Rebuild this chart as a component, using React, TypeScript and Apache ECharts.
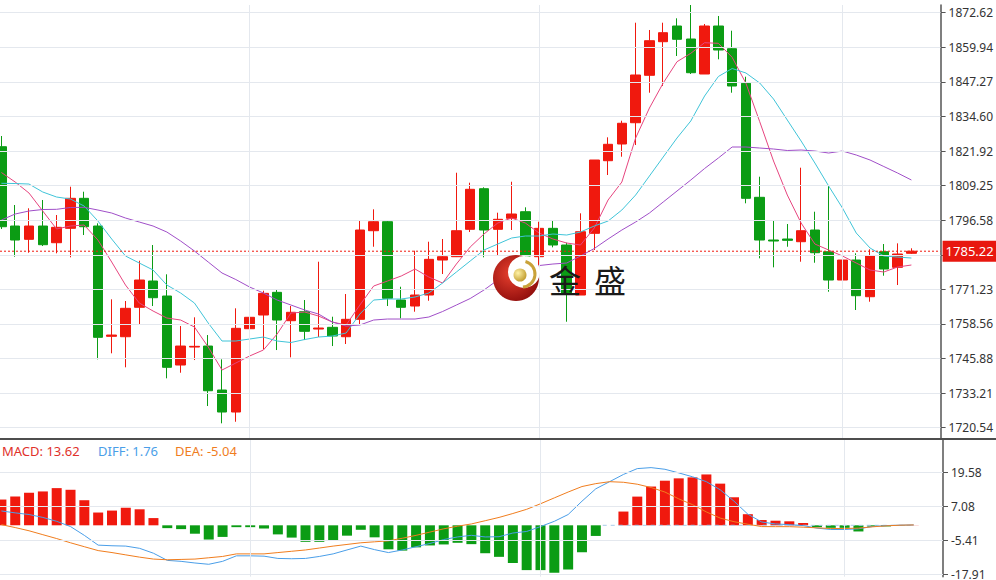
import React, { useEffect, useRef } from "react";
import * as echarts from "echarts";

// [open, close, low, high]
const candles: number[][] = [
  [1823.51, 1794.19, 1793.35, 1827.43], [1794.45, 1789.32, 1783.2, 1802.15], [1789.57, 1794.45, 1784.67, 1800.94],
  [1794.45, 1787.6, 1787.12, 1803.98], [1788.33, 1793.97, 1784.45, 1798.48], [1793.6, 1804.6, 1782.98, 1808.85],
  [1804.6, 1794.19, 1791.15, 1807.02], [1794.45, 1753.66, 1745.6, 1795.44], [1754.03, 1754.5, 1747.8, 1767.59],
  [1753.88, 1764.29, 1742.67, 1766.97], [1764.66, 1774.66, 1758.54, 1781.73], [1774.3, 1768.18, 1765.13, 1787.49],
  [1768.8, 1742.67, 1738.64, 1776.75], [1743.51, 1750.47, 1740.69, 1757.8], [1750.1, 1750.36, 1745.34, 1760.99],
  [1750.47, 1734.09, 1728.49, 1754.5], [1734.35, 1726.29, 1722.15, 1745.6], [1726.29, 1756.96, 1722.73, 1764.29],
  [1756.82, 1761.0, 1750.22, 1764.29], [1761.84, 1769.78, 1749.27, 1770.74], [1770.15, 1760.0, 1749.0, 1771.0],
  [1759.75, 1762.83, 1746.33, 1765.13], [1763.05, 1755.86, 1752.67, 1767.33], [1756.7, 1757.07, 1753.77, 1781.37],
  [1757.33, 1754.14, 1750.47, 1761.21], [1753.88, 1760.26, 1751.21, 1769.53], [1760.26, 1792.98, 1758.54, 1796.65],
  [1792.73, 1796.03, 1786.86, 1800.57], [1796.03, 1767.96, 1765.13, 1796.65], [1767.33, 1764.66, 1760.63, 1772.2],
  [1765.13, 1769.16, 1763.05, 1785.4], [1769.16, 1782.24, 1767.07, 1788.7], [1781.99, 1783.2, 1776.86, 1789.69],
  [1783.2, 1792.73, 1783.09, 1813.98], [1793.24, 1807.9, 1792.25, 1810.32], [1808.12, 1792.98, 1782.98, 1808.63],
  [1793.24, 1796.91, 1783.82, 1799.33], [1797.27, 1798.85, 1792.98, 1810.68], [1799.69, 1783.46, 1772.83, 1801.3],
  [1783.2, 1793.6, 1779.53, 1796.03], [1793.6, 1787.49, 1786.64, 1796.65], [1787.49, 1769.78, 1759.38, 1788.33],
  [1769.16, 1792.36, 1769.16, 1799.1], [1791.77, 1818.64, 1785.65, 1818.64], [1818.38, 1824.39, 1813.14, 1826.95],
  [1824.5, 1832.1, 1819.85, 1833.04], [1832.3, 1849.79, 1824.13, 1868.95], [1849.68, 1862.36, 1843.3, 1866.28],
  [1861.99, 1865.29, 1845.75, 1868.95], [1867.74, 1862.87, 1856.75, 1870.56], [1862.98, 1850.63, 1850.15, 1875.44],
  [1850.15, 1867.74, 1850.15, 1868.48], [1867.74, 1858.95, 1855.54, 1871.41], [1859.42, 1845.75, 1843.3, 1866.02],
  [1846.74, 1804.6, 1802.77, 1849.16], [1804.97, 1789.32, 1782.61, 1812.52], [1789.32, 1788.95, 1779.31, 1796.65],
  [1789.69, 1789.2, 1786.86, 1795.18], [1788.7, 1792.73, 1781.37, 1815.82], [1792.98, 1784.67, 1781.0, 1799.69],
  [1785.03, 1774.66, 1770.37, 1809.11], [1774.66, 1781.99, 1772.83, 1794.45], [1781.99, 1768.91, 1763.67, 1784.45],
  [1768.54, 1783.46, 1766.71, 1785.91], [1785.03, 1778.69, 1776.24, 1787.85], [1779.31, 1784.19, 1772.83, 1788.1],
  [1784.45, 1785.22, 1784.19, 1786.28],
];

const ma5 = [
  1814.06, 1810.57, 1806.54, 1799.95, 1793.35, 1794.45, 1794.82, 1789.32, 1781.26, 1772.83,
  1766.23, 1763.3, 1760.74, 1760.0, 1757.44, 1750.11, 1741.68, 1744.24, 1746.81, 1749.01,
  1754.87, 1762.57, 1762.93, 1761.47, 1759.27, 1758.17, 1765.5, 1772.46, 1774.29, 1776.13,
  1778.69, 1775.76, 1773.56, 1780.52, 1786.75, 1791.52, 1795.55, 1797.38, 1795.55, 1791.88,
  1789.69, 1788.22, 1787.49, 1793.72, 1803.98, 1810.57, 1826.7, 1837.69, 1846.85, 1854.66,
  1857.74, 1861.62, 1861.4, 1856.27, 1846.74, 1832.67, 1818.27, 1805.81, 1795.55, 1787.85,
  1785.65, 1783.46, 1780.89, 1778.33, 1777.59, 1779.43, 1780.16,
];

const ma10 = [
  1810.1, 1810.02, 1809.84, 1806.91, 1805.08, 1804.34, 1801.78, 1796.28, 1789.69, 1783.46,
  1780.89, 1778.33, 1772.83, 1769.9, 1766.23, 1758.9, 1752.31, 1752.31, 1753.04, 1753.77,
  1752.31, 1751.76, 1752.86, 1753.77, 1754.14, 1755.24, 1762.2, 1767.33, 1767.7, 1767.7,
  1768.43, 1769.9, 1773.56, 1777.59, 1781.62, 1785.65, 1787.85, 1790.05, 1790.79, 1790.79,
  1791.52, 1791.15, 1792.25, 1794.45, 1796.28, 1800.31, 1805.81, 1812.77, 1819.74, 1826.7,
  1832.93, 1842.09, 1849.24, 1852.17, 1850.52, 1846.85, 1840.99, 1833.29, 1825.6, 1817.54,
  1809.11, 1801.05, 1791.88, 1786.39, 1783.46, 1783.09, 1782.72,
];

const ma20 = [
  1796.65, 1798.85, 1799.95, 1800.5, 1800.57, 1801.23, 1801.3, 1800.31, 1799.21, 1797.38,
  1795.92, 1794.45, 1792.25, 1788.95, 1785.29, 1781.26, 1777.23, 1774.84, 1772.1, 1769.9,
  1767.33, 1765.5, 1763.67, 1762.2, 1759.27, 1757.8, 1758.17, 1760.0, 1760.37, 1760.37,
  1760.37, 1761.1, 1763.12, 1765.5, 1767.88, 1771.0, 1774.66, 1777.59, 1779.24, 1779.97,
  1780.52, 1780.89, 1783.46, 1786.2, 1789.69, 1792.98, 1795.92, 1799.21, 1803.25, 1807.28,
  1811.31, 1815.52, 1819.37, 1823.4, 1823.4, 1823.03, 1822.67, 1822.12, 1822.3, 1821.93,
  1821.2, 1821.93, 1820.47, 1818.64, 1816.25, 1813.87, 1811.31,
];

const macdHist = [
  9.48, 10.56, 11.99, 12.46, 13.68, 13.07, 9.23, 4.7, 5.42, 6.5, 5.89, 2.66,
  -1.04, -1.4, -3.09, -5.24, -4.27, -0.68, -0.68, -1.18, -3.34, -4.52, -6.07, -6.07,
  -5.71, -3.81, -1.65, -4.42, -8.83, -9.3, -8.11, -7.4, -7.04, -6.43, -6.93, -10.27,
  -11.6, -13.86, -16.48, -16.48, -17.45, -16.26, -9.91, -3.91, 0, 5.06, 10.56, 14.26,
  16.41, 17.27, 17.63, 18.71, 15.33, 10.31, 4.09, 1.94, 1.69, 1.47, 0.86, -0.68,
  -0.93, -0.93, -2.26, -0.5, -0.4, -0.1, 0.05,
];

const diff = [
  5.28, 4.57, 3.97, 2.9, 1.47, -0.46, -3.7, -7.29, -7.52, -7.65, -8.47, -10.27,
  -12.9, -13.26, -13.86, -14.34, -13.26, -11.23, -11.23, -11.35, -12.18, -12.3, -12.18, -11.46,
  -10.51, -9.07, -7.65, -8.95, -10.03, -9.07, -7.87, -6.68, -5.24, -4.28, -3.69, -4.28,
  -4.2, -2.84, -2.26, -0.47, 1.47, 3.97, 8.87, 13.43, 16.05, 18.71, 20.86, 21.22,
  20.61, 19.28, 17.85, 16.05, 13.07, 8.87, 4.09, 1.22, 0.5, 0.25, -0.1, -1.04,
  -1.54, -1.54, -1.29, -0.46, -0.1, 0.04, 0.14,
];

const dea = [
  0.25, -0.83, -2.01, -3.45, -4.88, -6.43, -7.87, -9.3, -10.03, -10.88, -11.71, -12.42,
  -12.67, -12.55, -12.42, -11.94, -11.46, -10.51, -10.51, -10.51, -10.03, -9.55, -9.07, -8.36,
  -7.65, -7.04, -6.43, -6.07, -5.71, -4.76, -3.69, -2.49, -1.29, -0.33, 0.5, 1.69,
  2.9, 4.34, 5.89, 7.92, 10.09, 12.24, 14.26, 15.33, 16.05, 15.83, 15.12, 13.9,
  12.24, 9.73, 7.58, 4.92, 2.66, 1.33, 0.39, -0.47, -0.5, -0.5, -0.68, -0.93,
  -1.18, -1.18, -1.04, -0.56, -0.2, 0.04, 0.14,
];

const priceTicks = [1720.54, 1733.21, 1745.88, 1758.56, 1771.23, 1783.9, 1796.58, 1809.25, 1821.92, 1834.6, 1847.27, 1859.94, 1872.62];
const macdTicks = [-17.91, -5.41, 7.08, 19.58];
const periodBreaks = [18, 39, 61];
const lastPrice = 1785.22;
const zeroLineFrom = 43.5;
const legendMacd = 13.62;
const legendDiff = 1.76;
const legendDea = -5.04;

const RED = "#f0190e";
const GREEN = "#0b9c14";
const GRID = "#e4e8ee";

export default function App() {
  const ref = useRef<HTMLDivElement>(null);
  useEffect(() => {
    const chart = echarts.init(ref.current as HTMLDivElement, null, { renderer: "svg" });
    const pts = (arr: number[]) => arr.map((v, i) => [i, v]);
    const xMin = -0.1013;
    const xMax = 68.118;
    const font = "Noto Sans";
    // the current-price tag hides the tick label that sits under it
    const priceLabelTicks = priceTicks.filter((v) => Math.abs(v - lastPrice) > 5);
    const yAxisCommon = {
      type: "value",
      position: "right",
      axisLine: { show: true, onZero: false, lineStyle: { color: "#555", width: 1.5 } },
      axisTick: { show: true, length: 5, lineStyle: { color: "#555" } },
      splitLine: { show: false },
      axisLabel: {
        color: "#333",
        fontSize: 12,
        fontFamily: font,
        margin: 8,
        formatter: (v: number) => v.toFixed(2),
      },
    };
    const gz = 40;
    const option: any = {
      animation: false,
      backgroundColor: "#fff",
      grid: [
        { left: 0, top: 5, width: 943, height: 433 },
        { left: 0, top: 440, width: 943, height: 140 },
      ],
      xAxis: [
        { type: "value", gridIndex: 0, min: xMin, max: xMax, show: false },
        { type: "value", gridIndex: 1, min: xMin, max: xMax, show: false },
      ],
      yAxis: [
        {
          ...yAxisCommon,
          gridIndex: 0,
          min: 1716.77,
          max: 1875.44,
          axisLabel: { ...yAxisCommon.axisLabel, customValues: priceLabelTicks },
          axisTick: { ...yAxisCommon.axisTick, customValues: priceTicks },
        },
        {
          ...yAxisCommon,
          gridIndex: 1,
          min: -18.89,
          max: 31.38,
          axisLabel: { ...yAxisCommon.axisLabel, customValues: macdTicks },
          axisTick: { ...yAxisCommon.axisTick, customValues: macdTicks },
        },
      ],
      series: [
        {
          type: "line",
          xAxisIndex: 0,
          yAxisIndex: 0,
          data: [],
          z: 1,
          silent: true,
          markLine: {
            silent: true,
            symbol: ["none", "none"],
            label: { show: false },
            lineStyle: { color: GRID, width: 1, type: "solid" },
            data: [
              ...priceTicks.map((v) => ({ yAxis: v })),
              ...periodBreaks.map((v) => ({ xAxis: v })),
            ],
          },
        },
        {
          type: "line",
          xAxisIndex: 1,
          yAxisIndex: 1,
          data: [],
          z: 1,
          silent: true,
          markLine: {
            silent: true,
            symbol: ["none", "none"],
            label: { show: false },
            lineStyle: { color: GRID, width: 1, type: "solid" },
            data: [
              ...macdTicks.map((v) => ({ yAxis: v })),
              ...periodBreaks.map((v) => ({ xAxis: v })),
            ],
          },
        },
        {
          type: "candlestick",
          xAxisIndex: 0,
          yAxisIndex: 0,
          barWidth: 10,
          z: 2,
          encode: { x: 0, y: [1, 2, 3, 4] },
          data: candles.map((c, i) => [i, c[0], c[1], c[2], c[3]]),
          itemStyle: {
            color: RED,
            color0: GREEN,
            borderColor: RED,
            borderColor0: GREEN,
            borderWidth: 1,
          },
        },
        { type: "line", xAxisIndex: 0, yAxisIndex: 0, data: pts(ma5), showSymbol: false, symbol: "none", z: 3, lineStyle: { color: "#e6457f", width: 1 } },
        { type: "line", xAxisIndex: 0, yAxisIndex: 0, data: pts(ma10), showSymbol: false, symbol: "none", z: 3, lineStyle: { color: "#40c4d8", width: 1 } },
        { type: "line", xAxisIndex: 0, yAxisIndex: 0, data: pts(ma20), showSymbol: false, symbol: "none", z: 3, lineStyle: { color: "#a04fc8", width: 1 } },
        {
          // current price: dotted line across the pane
          type: "line",
          xAxisIndex: 0,
          yAxisIndex: 0,
          z: 4,
          silent: true,
          symbol: "none",
          showSymbol: false,
          data: [[xMin, lastPrice], [xMax, lastPrice]],
          itemStyle: { color: RED },
          lineStyle: { color: RED, width: 1, type: [2, 2] },
        },
        {
          // current price tag at the axis, positioned through the axis scale
          type: "custom",
          xAxisIndex: 0,
          yAxisIndex: 0,
          z: 20,
          silent: true,
          clip: false,
          encode: { x: 0, y: 1 },
          data: [[xMax, lastPrice]],
          renderItem: (params: any, api: any) => {
            const p = api.coord([api.value(0), api.value(1)]);
            return {
              type: "group",
              children: [
                { type: "rect", shape: { x: p[0] + 2, y: p[1] - 10.5, width: 60, height: 21 }, style: { fill: "#e8170f" } },
                {
                  type: "text",
                  style: {
                    text: lastPrice.toFixed(2),
                    x: p[0] + 5,
                    y: p[1],
                    fill: "#ffffff",
                    font: `13px "${font}"`,
                    verticalAlign: "middle",
                  },
                },
              ],
            };
          },
        },
        {
          type: "bar",
          xAxisIndex: 1,
          yAxisIndex: 1,
          barWidth: 10,
          z: 2,
          data: macdHist.map((v, i) => ({ value: [i, v], itemStyle: { color: v >= 0 ? RED : GREEN } })),
        },
        {
          type: "line",
          xAxisIndex: 1,
          yAxisIndex: 1,
          z: 3,
          silent: true,
          symbol: "none",
          showSymbol: false,
          data: [[zeroLineFrom, 0], [macdHist.length - 1, 0]],
          lineStyle: { color: "#a9cce8", width: 1, type: [4, 4] },
        },
        { type: "line", xAxisIndex: 1, yAxisIndex: 1, data: pts(diff), showSymbol: false, symbol: "none", z: 3, lineStyle: { color: "#4a9ee8", width: 1 } },
        { type: "line", xAxisIndex: 1, yAxisIndex: 1, data: pts(dea), showSymbol: false, symbol: "none", z: 3, lineStyle: { color: "#f07d1e", width: 1 } },
      ],
      graphic: [
        { type: "line", z: 50, shape: { x1: 0, y1: 439, x2: 996, y2: 439 }, style: { stroke: "#4d4d4d", lineWidth: 2 } },
        { type: "text", z: 50, style: { text: `MACD: ${legendMacd.toFixed(2)}`, x: 2, y: 451, fill: "#e0312a", font: `13px "${font}"`, verticalAlign: "middle" } },
        { type: "text", z: 50, style: { text: `DIFF: ${legendDiff.toFixed(2)}`, x: 98, y: 451, fill: "#4a9ee8", font: `13px "${font}"`, verticalAlign: "middle" } },
        { type: "text", z: 50, style: { text: `DEA: ${legendDea.toFixed(2)}`, x: 175, y: 451, fill: "#f07d1e", font: `13px "${font}"`, verticalAlign: "middle" } },
        {
          type: "circle",
          z: gz,
          shape: { cx: 516, cy: 278, r: 23 },
          style: {
            fill: new echarts.graphic.RadialGradient(0.4, 0.4, 0.7, [
              { offset: 0, color: "#e8402e" },
              { offset: 1, color: "#8a0a0a" },
            ]),
          },
        },
        { type: "circle", z: gz + 1, shape: { cx: 524, cy: 272, r: 16 }, style: { fill: "#fff" } },
        {
          type: "arc",
          z: gz + 2,
          shape: { cx: 522, cy: 274, r: 13, startAngle: -1.3, endAngle: 1.5 },
          style: { stroke: "#c9a23a", lineWidth: 3, fill: "none" },
        },
        {
          type: "circle",
          z: gz + 3,
          shape: { cx: 520, cy: 275, r: 6.5 },
          style: {
            fill: new echarts.graphic.RadialGradient(0.35, 0.35, 0.8, [
              { offset: 0, color: "#fff3a8" },
              { offset: 1, color: "#b88f1c" },
            ]),
          },
        },
        { type: "text", z: gz + 3, style: { text: "金", x: 549, y: 279, fill: "#1a1a1a", font: `32px "Noto Sans CJK SC"`, verticalAlign: "middle" } },
        { type: "text", z: gz + 3, style: { text: "盛", x: 594, y: 279, fill: "#1a1a1a", font: `32px "Noto Sans CJK SC"`, verticalAlign: "middle" } },
      ],
    };
    chart.setOption(option);
    return () => chart.dispose();
  }, []);
  return <div ref={ref} style={{ position: "fixed", left: 0, top: 0, width: 996, height: 580 }} />;
}
